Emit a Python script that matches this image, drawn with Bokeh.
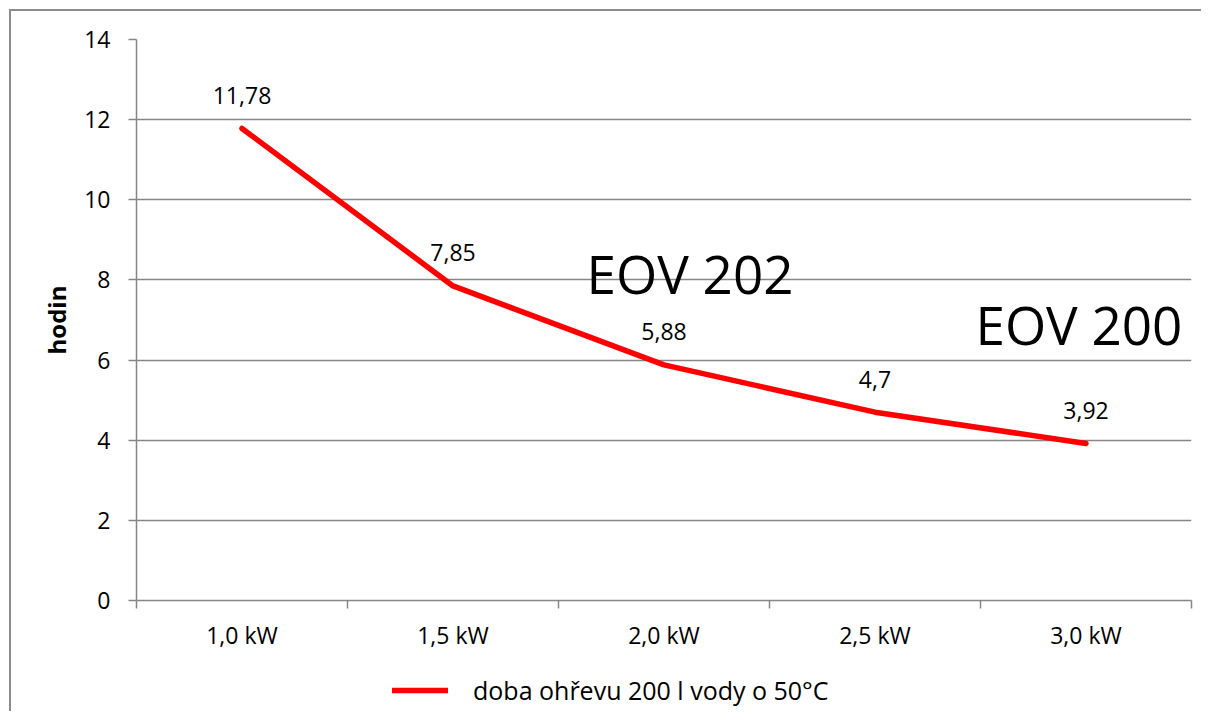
from bokeh.plotting import figure
from bokeh.layouts import column
from bokeh.models import (Range1d, FixedTicker, Label, Legend, LegendItem,
                          ColumnDataSource)
from bokeh.core.properties import value
from bokeh.embed import file_html
from bokeh.resources import INLINE

# ---- data ----
categories = ["1,0 kW", "1,5 kW", "2,0 kW", "2,5 kW", "3,0 kW"]
hours = [11.78, 7.85, 5.88, 4.7, 3.92]
hour_labels = ["11,78", "7,85", "5,88", "4,7", "3,92"]
series_name = "doba ohřevu 200 l vody o 50°C"
y_ticks = [0, 2, 4, 6, 8, 10, 12, 14]
annotations = ["EOV 202", "EOV 200"]

FONT = "Open Sans"
GRAY = "#868686"
RED = "#ff0000"

xs = [i + 0.5 for i in range(len(categories))]
src = ColumnDataSource(dict(x=xs, y=hours, lab=hour_labels))

p = figure(width=1190, height=650, output_backend="svg", toolbar_location=None,
           x_range=Range1d(0, len(categories)), y_range=Range1d(0, 14),
           min_border_left=125, min_border_right=10, min_border_top=28,
           min_border_bottom=61)
p.outline_line_color = None
p.background_fill_color = "white"
p.border_fill_color = "white"

# y axis
p.yaxis.ticker = FixedTicker(ticks=y_ticks)
p.yaxis.axis_line_color = GRAY
p.yaxis.axis_line_width = 1.5
p.yaxis.major_tick_line_color = GRAY
p.yaxis.major_tick_line_width = 1.5
p.yaxis.major_tick_in = 0
p.yaxis.major_tick_out = 8
p.yaxis.minor_tick_line_color = None
p.yaxis.major_label_text_font = FONT
p.yaxis.major_label_text_font_size = "23px"
p.yaxis.major_label_text_color = "black"
p.yaxis.major_label_standoff = 18
p.yaxis.axis_label = "hodin"
p.yaxis.axis_label_text_font = FONT
p.yaxis.axis_label_text_font_style = "bold"
p.yaxis.axis_label_text_font_size = "24px"
p.yaxis.axis_label_text_color = "black"
p.yaxis.axis_label_standoff = 8

# x axis: labels at centers, ticks at boundaries
p.xaxis.ticker = FixedTicker(ticks=xs, minor_ticks=list(range(len(categories) + 1)))
p.xaxis.major_label_overrides = {x: c for x, c in zip(xs, categories)}
p.xaxis.axis_line_color = GRAY
p.xaxis.axis_line_width = 1.5
p.xaxis.major_tick_line_color = None
p.xaxis.minor_tick_line_color = GRAY
p.xaxis.minor_tick_line_width = 1.5
p.xaxis.minor_tick_in = 0
p.xaxis.minor_tick_out = 8
p.xaxis.major_label_text_font = FONT
p.xaxis.major_label_text_font_size = "23px"
p.xaxis.major_label_text_color = "black"
p.xaxis.major_label_standoff = 10

p.xgrid.grid_line_color = None
p.ygrid.ticker = FixedTicker(ticks=y_ticks)
p.ygrid.grid_line_color = GRAY
p.ygrid.grid_line_width = 1.5

p.line("x", "y", source=src, line_color=RED, line_width=5.5,
       line_cap="round", line_join="round")
p.text("x", "y", text="lab", source=src, text_font=value(FONT),
       text_font_size="23px", text_align="center", text_baseline="middle",
       y_offset=-33, text_color="black")

p.add_layout(Label(x=2.133, y=8.16, text=annotations[0], text_font=FONT,
                   text_font_size="53px", text_color="black",
                   text_baseline="alphabetic"))
p.add_layout(Label(x=3.976, y=6.9, text=annotations[1], text_font=FONT,
                   text_font_size="53px", text_color="black",
                   text_baseline="alphabetic"))

# legend strip below the chart (same series, drawn out of view)
p2 = figure(width=1190, height=50, output_backend="svg", toolbar_location=None,
            x_range=Range1d(0, len(categories)), y_range=Range1d(100, 101),
            min_border=0, x_axis_location=None, y_axis_location=None)
p2.outline_line_color = None
p2.grid.visible = False
r2 = p2.line("x", "y", source=src, line_color=RED, line_width=5.5,
             line_cap="round")
legend = Legend(items=[LegendItem(label=series_name, renderers=[r2])],
                location=(256, 4), orientation="horizontal",
                label_text_font=FONT, label_text_font_size="25px",
                label_text_color="black",
                glyph_width=56, glyph_height=24, label_height=24,
                label_standoff=25, margin=0, padding=0,
                border_line_color=None, background_fill_alpha=0)
p2.add_layout(legend, "center")

layout = column(p, p2, spacing=0)
layout.styles = {"border-left": "2px solid #8c8c8c",
                 "border-top": "2px solid #8c8c8c",
                 "margin-left": "9px", "margin-top": "9px"}

open("out.html", "w").write(file_html(layout, INLINE))
